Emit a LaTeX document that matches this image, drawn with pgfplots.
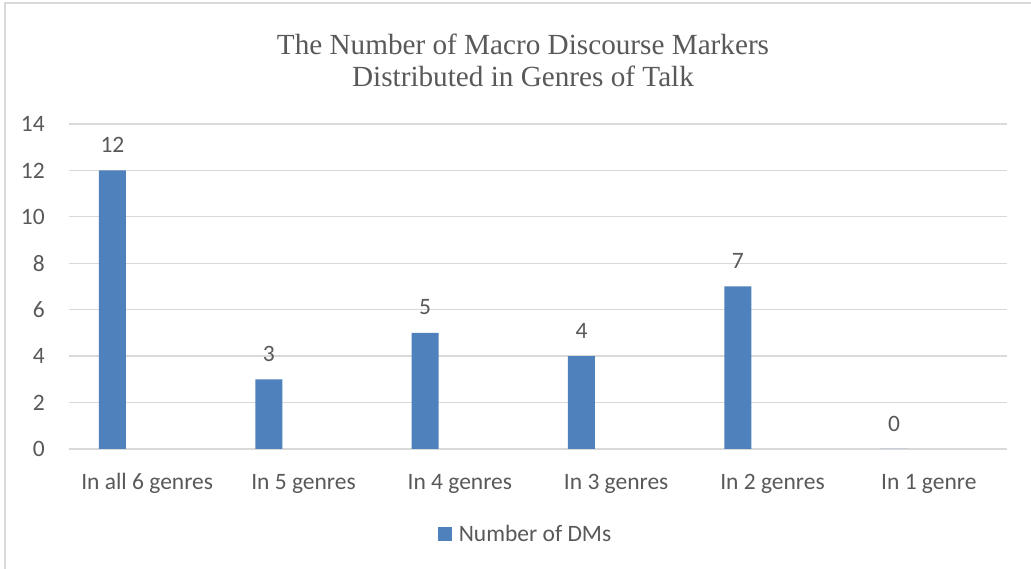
\documentclass[border=0pt]{standalone}
\usepackage{fontspec}
\setmainfont{Carlito}
\newfontfamily\titlefont{Liberation Serif}
\usepackage{pgfplots}
\pgfplotsset{compat=1.18}
\definecolor{barblue}{HTML}{4F81BD}
\definecolor{txtgray}{HTML}{595959}
\definecolor{gridgray}{HTML}{D9D9D9}
\newcommand{\lblfont}{\fontsize{23.5}{28}\selectfont}
\begin{document}
\begin{tikzpicture}
\path[use as bounding box] (0pt,0pt) rectangle (1031pt,569pt);
\fill[white] (0pt,0pt) rectangle (1031pt,569pt);
\draw[gridgray, line width=1.3pt] (5pt,0pt) -- (5pt,566pt) -- (1031pt,566pt);
\node[font={\titlefont\fontsize{29.2}{32}\selectfont}, text=txtgray, align=center] at (523pt,509pt)
  {The Number of Macro Discourse Markers\\Distributed in Genres of Talk};
\begin{axis}[
  at={(69pt,120pt)}, anchor=south west,
  scale only axis, width=938pt, height=325pt,
  xmin=-0.5, xmax=5.5, ymin=0, ymax=14,
  ytick={0,2,...,14},
  xtick={0,...,5},
  xticklabels={In all 6 genres, In 5 genres, In 4 genres, In 3 genres, In 2 genres, In 1 genre},
  axis line style={draw=none},
  tick style={draw=none},
  ymajorgrids, grid style={gridgray, line width=1.3pt},
  /pgf/number format/assume math mode=true,
  ticklabel style={font=\lblfont, text=txtgray, inner sep=0pt},
  yticklabel style={anchor=east, xshift=-24pt},
  xticklabel style={anchor=base, yshift=-36pt},
  ybar, bar width=0.173, bar shift=-0.222,
  nodes near coords,
  every node near coord/.append style={font=\lblfont, text=txtgray, anchor=center, inner sep=0pt, yshift=25.5pt},
  legend style={at={(0.4867,-0.2615)}, anchor=center, draw=none, font=\lblfont, text=txtgray,
     /tikz/every odd column/.append style={column sep=5pt}},
  legend image code/.code={\fill[barblue] (0pt,-7pt) rectangle (14pt,7pt);},
]
\addplot[fill=barblue, draw=none] coordinates {(0,12) (1,3) (2,5) (3,4) (4,7) (5,0)};
\addlegendentry{Number of DMs}
\end{axis}
\end{tikzpicture}
\end{document}
